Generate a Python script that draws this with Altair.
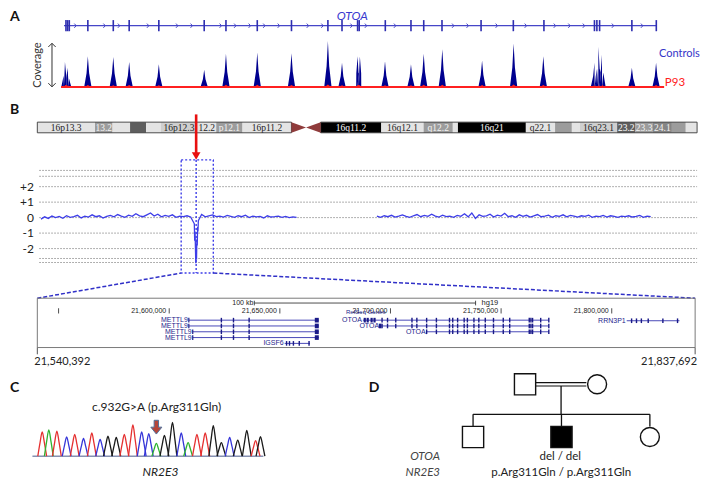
import altair as alt
import pandas as pd
import numpy as np

# ======================= DATA =======================
# Panel A - OTOA gene model (exon positions, % of gene length)
OTOA_EXONS = [0.33, 0.61, 0.89, 4.02, 8.31, 10.99, 15.99, 23.64, 27.31, 32.59, 38.36, 44.50, 46.88,
              49.51, 49.78, 54.18, 58.51, 60.66, 63.74, 70.33, 75.77, 80.93, 89.45, 89.86, 90.32,
              95.76, 99.88]
# coverage peaks at the exons (controls vs patient P93)
PEAK_POS = [0.16, 0.61, 4.02, 8.31, 10.99, 15.99, 23.64, 27.31, 32.59, 38.36, 44.50, 46.88, 49.51,
            49.89, 54.13, 58.51, 60.66, 63.79, 70.50, 75.82, 80.83, 89.45, 90.11, 90.72, 95.76, 99.84]
CONTROL_DEPTH = [103, 80, 127, 124, 103, 94, 71, 138, 143, 140, 190, 100, 127,
                 127, 107, 94, 138, 156, 110, 180, 127, 100, 167, 134, 80, 100]
P93_DEPTH = [8, 6, 8, 7, 8, 7, 6, 9, 9, 8, 10, 7, 8, 8, 7, 7, 9, 9, 8, 10, 8, 7, 9, 8, 6, 8]

# Panel B - chromosome 16 ideogram (Mb)
BAND_START = [0, 7.9, 10.3, 12.7, 14.9, 16.9, 21.9, 24.5, 28.1, 38.8, 47.1, 52.9, 56.9, 57.6,
              66.9, 70.9, 73.2, 74.3, 79.4, 81.9, 84.3, 86.9, 88.8]
BAND_END = [7.9, 10.3, 12.7, 14.9, 16.9, 21.9, 24.5, 28.1, 34.8, 47.1, 52.9, 56.9, 57.6, 66.9,
            70.9, 73.2, 74.3, 79.4, 81.9, 84.3, 86.9, 88.8, 90.35]
BAND_STAIN = ["gneg", "gpos50", "gneg", "gpos75", "gneg", "gpos25", "gneg", "gpos50", "gneg",
              "gpos100", "gneg", "gpos50", "gneg", "gpos100", "gneg", "gpos50", "gneg", "gpos25",
              "gpos75", "gpos50", "gpos60", "gpos50", "gneg"]
BAND_LABEL = ["16p13.3", "13.2", "", "", "", "16p12.3", "12.2", "p12.1", "16p11.2", "16q11.2",
              "16q12.1", "q12.2", "", "16q21", "q22.1", "", "", "16q23.1", "23.2", "23.3", "24.1", "", ""]
CENTROMERE = [34.8, 36.8, 38.8]
OTOA_MB = 21.75

# Panel B - copy number profile (log2-like levels)
CNV_GRID = [3.05, 2.67, 2, 1, 0, -1, -2, -2.64, -2.9]
CNV_TICKS = [2, 1, 0, -1, -2]
CNV_TICK_TEXT = ["+2", "+1", "0", "-1", "-2"]
SEG1_START, SEG2_START, STEP = 0.5, 46.5, 0.5
SEG1 = [-0.10, 0.05, -0.05, 0.10, 0.00, 0.08, -0.04, 0.12, 0.02, 0.06,
        0.15, -0.02, 0.10, 0.04, 0.18, 0.06, 0.12, -0.03, 0.08, 0.14,
        0.05, 0.20, 0.10, 0.02, 0.16, 0.08, 0.25, 0.12, 0.06, 0.18,
        0.30, 0.10, 0.22, 0.05, 0.14, 0.08, 0.18, 0.02, 0.10, 0.06,
        0.12, 0.04, 0.15, 0.08, 0.20, 0.05, 0.12, 0.18, 0.06, 0.10,
        0.04, 0.14, 0.08, 0.02, 0.12, 0.06, 0.16, 0.00, 0.10, 0.05,
        0.08, -0.02, 0.12, 0.04, 0.06, 0.10, 0.02, 0.08, 0.00, 0.05, 0.02]
SEG2 = [0.10, 0.02, 0.12, 0.06, 0.15, 0.04, 0.10, 0.18, 0.08, 0.02,
        0.12, 0.20, 0.06, 0.14, 0.08, 0.22, 0.10, 0.04, 0.16, 0.06,
        0.10, 0.02, 0.14, 0.08, 0.25, 0.05, 0.30, -0.05, 0.18, 0.08,
        0.12, 0.22, 0.04, 0.16, 0.10, 0.28, 0.06, 0.12, 0.02, 0.18,
        0.08, 0.15, 0.04, 0.12, 0.20, 0.06, 0.10, 0.16, 0.02, 0.12,
        0.08, 0.18, 0.05, 0.14, 0.10, 0.04, 0.12, 0.08, 0.16, 0.02,
        0.10, 0.06, 0.14, 0.04, 0.12, 0.08, 0.02, 0.10, 0.06, 0.12,
        0.04, 0.08, 0.14, 0.02, 0.10, 0.06]
DIP_MB = [21.5, 21.55, 21.6, 21.65, 21.7, 21.75, 21.8, 21.85, 21.9, 21.95, 22.0, 22.05]
DIP_VAL = [-0.4, -1.5, -0.9, -1.9, -2.95, -1.7, -2.7, -1.4, -1.8, -0.6, -0.9, -0.2]
BOX_MB = (19.7, 24.1)
BOX_CNV = (3.73, -3.58)

# Panel B - zoomed region (hg19)
REGION = (21540392, 21837692)
POS_TICKS = [21550000, 21600000, 21650000, 21700000, 21750000, 21800000]
POS_TICK_TEXT = ["", "21,600,000", "21,650,000", "21,700,000", "21,750,000", "21,800,000"]
SCALEBAR = (21638465, 21738465)
GENE_NAME = ["METTL9", "METTL9", "METTL9", "METTL9", "IGSF6", "OTOA", "OTOA", "OTOA", "RRN3P1"]
GENE_ROW = [0, 1, 2, 3, 4, 0, 1, 2, 0.1]
GENE_START = [21608863, 21608863, 21610630, 21610630, 21652155, 21687495, 21695314, 21716342, 21806767]
GENE_END = [21667616, 21667616, 21667616, 21667616, 21663641, 21771560, 21771560, 21771560, 21830622]
METTL9_EXONS = [21623574, 21629051, 21636120]
METTL9_LAST = 21666700
IGSF6_EXONS = [21653038, 21654364, 21656131, 21658781, 21663199]
OTOA_FIRST = [21688378, 21689704, 21691471, 21692796]
OTOA_ALT_FIRST = 21695314
OTOA_GX = [21696197, 21698671, 21702382, 21709715, 21711924, 21716342, 21720759, 21726678,
           21728136, 21730345, 21733304, 21734762, 21737722, 21739931, 21742846, 21746557,
           21750975, 21753890, 21762725, 21763476, 21764227, 21767891, 21771560]
RRN3P1_EXONS = [21808976, 21811185, 21813394, 21816486, 21823112, 21829738]

# Panel C - NR2E3 Sanger trace (scan position, base, intensity)
TRACE_SCAN = [20, 47, 80, 120, 153, 189, 223, 257, 289, 323, 356, 391, 427, 456, 487, 520, 553,
              589, 617, 653, 687, 720, 753, 787, 820, 857, 893, 913]
TRACE_BASE = ["T", "A", "T", "C", "T", "C", "T", "C", "G", "G", "T", "T", "C", "C", "A", "G", "G",
              "C", "A", "T", "T", "G", "G", "C", "G", "G", "T", "G"]
TRACE_HEIGHT = [700, 764, 728, 560, 633, 512, 672, 484, 577, 540, 633, 904, 700, 652, 372, 605,
                980, 672, 392, 633, 672, 885, 392, 540, 465, 745, 448, 568]
BASE_COLOR = {"A": "#2fb32f", "C": "#3535d8", "G": "#1a1a1a", "T": "#e53030"}
MUT_SCAN = 487

# Panel D - pedigree
PED_X = [0.588, 1.403, 0.0, 1.0, 2.0]
PED_GEN = [1, 1, 2, 2, 2]
PED_SEX = ["M", "F", "M", "M", "F"]
PED_AFF = [False, False, False, True, False]

# ======================= LAYOUT HELPERS =======================
W, H = 693, 474
FW, FH = 709.0, 490.0


def xs(d0, d1, p0, p1):
    q0, q1 = p0 * W / FW, p1 * W / FW
    k = (q1 - q0) / (d1 - d0)
    a = d0 - q0 / k
    return alt.Scale(domain=[a, a + W / k], nice=False, zero=False)


def ys(v0, v1, p0, p1):
    q0, q1 = p0 * H / FH, p1 * H / FH
    k = (q0 - q1) / (v1 - v0)
    a = v0 - (H - q0) / k
    return alt.Scale(domain=[a, a + H / k], nice=False, zero=False)


LX = xs(0, FW, 0, FW)
LY = ys(0, FH, 0, FH)


def enc(xsc, ysc, x="x", y="y", x2=None, y2=None, **kw):
    e = dict(x=alt.X(f"{x}:Q", scale=xsc, axis=None), y=alt.Y(f"{y}:Q", scale=ysc, axis=None))
    if x2:
        e["x2"] = alt.X2(f"{x2}:Q")
    if y2:
        e["y2"] = alt.Y2(f"{y2}:Q")
    e.update(kw)
    return e


def txt(rows, xsc, ysc, **mk):
    df = pd.DataFrame(rows, columns=["x", "y", "t"])
    mk.setdefault("baseline", "middle")
    return alt.Chart(df).mark_text(**mk).encode(**enc(xsc, ysc), text="t:N")


layers = []
FONT = "Lato"
BLUE_G = "#4646c8"
NAVY = "#00008f"
RED = "#ff2020"

# ======================= PANEL A =======================
GX = xs(0, 100, 57.3, 664)
COV = ys(0, 100, 81.7, 56.7)

layers.append(alt.Chart(pd.DataFrame({"x": [0], "x2": [100], "y": [18.3]}))
              .mark_rule(color=BLUE_G, strokeWidth=1.3).encode(**enc(GX, LY, x2="x2")))
layers.append(alt.Chart(pd.DataFrame({"x": OTOA_EXONS, "y": [12.5] * len(OTOA_EXONS), "y2": [24] * len(OTOA_EXONS)}))
              .mark_rule(color="#2e2eb0", strokeWidth=1.6).encode(**enc(GX, LY, y2="y2")))
chev = [p for p in np.arange(1.9, 99.5, 2.45) if min(abs(p - e) for e in OTOA_EXONS) > 0.9]
layers.append(alt.Chart(pd.DataFrame({"x": chev, "y": [18.3] * len(chev)}))
              .mark_point(shape="M -0.45 -1 L 0.45 0 L -0.45 1", filled=False, color=BLUE_G,
                          size=18, strokeWidth=1, opacity=1).encode(**enc(GX, LY)))
layers.append(txt([[48.6, 8.5, "OTOA"]], GX, LY, font=FONT, fontSize=12, fontStyle="italic",
                  color="#3a3ad0"))

shape_dx = [-0.62, -0.22, 0.0, 0.22, 0.62]
shape_f = [0.0, 0.45, 1.0, 0.45, 0.0]
rows = []
for i, (p, d) in enumerate(zip(PEAK_POS, CONTROL_DEPTH)):
    for dx, f in zip(shape_dx, shape_f):
        rows.append({"x": p + dx, "y": d * f, "pid": i})
layers.append(alt.Chart(pd.DataFrame(rows)).mark_area(color=NAVY, opacity=1)
              .encode(**enc(GX, COV, detail="pid:N")))
layers.append(alt.Chart(pd.DataFrame({"x": [-0.5], "x2": [101.2], "y": [0]}))
              .mark_rule(color=RED, strokeWidth=2).encode(**enc(GX, COV, x2="x2")))
rows = []
for i, (p, d) in enumerate(zip(PEAK_POS, P93_DEPTH)):
    for dx, f in zip([-0.55, 0, 0.55], [0, 1, 0]):
        rows.append({"x": p + dx, "y": d * f, "pid": i})
layers.append(alt.Chart(pd.DataFrame(rows)).mark_area(color=RED, opacity=1)
              .encode(**enc(GX, COV, detail="pid:N")))
layers.append(txt([[666, 48, "Controls"]], LX, LY, font=FONT, fontSize=11, color="#3535c8", align="left"))
layers.append(txt([[672, 77.5, "P93"]], LX, LY, font=FONT, fontSize=11.5, color=RED, align="left"))
# coverage arrow
layers.append(alt.Chart(pd.DataFrame({"x": [45], "y": [36.5], "y2": [81.5]}))
              .mark_rule(color="#333333", strokeWidth=1).encode(**enc(LX, LY, y2="y2")))
layers.append(alt.Chart(pd.DataFrame({"x": [45], "y": [36.5]}))
              .mark_point(shape="M -0.7 0.7 L 0 0 L 0.7 0.7", filled=False, color="#333333", size=110,
                          strokeWidth=1, opacity=1).encode(**enc(LX, LY)))
layers.append(alt.Chart(pd.DataFrame({"x": [45], "y": [81.5]}))
              .mark_point(shape="M -0.7 -0.7 L 0 0 L 0.7 -0.7", filled=False, color="#333333", size=110,
                          strokeWidth=1, opacity=1).encode(**enc(LX, LY)))
layers.append(txt([[31, 59, "Coverage"]], LX, LY, font=FONT, fontSize=11, color="#333333", angle=270))

# ======================= PANEL B : ideogram =======================
MB = xs(0, 90.35, 30, 705)
STAIN_FILL = {"gneg": "#e4e4e4", "gpos25": "#cfcfcf", "gpos50": "#9c9c9c", "gpos60": "#858585",
              "gpos75": "#5e5e5e", "gpos100": "#000000"}
STAIN_TEXT = {"gneg": "#222222", "gpos25": "#222222", "gpos50": "#f4f4f4", "gpos60": "#f4f4f4",
              "gpos75": "#ffffff", "gpos100": "#ffffff"}
bands = pd.DataFrame({"x": BAND_START, "x2": BAND_END, "y": [118] * len(BAND_START),
                      "y2": [129] * len(BAND_START),
                      "fill": [STAIN_FILL[s] for s in BAND_STAIN],
                      "tc": [STAIN_TEXT[s] for s in BAND_STAIN], "t": BAND_LABEL})
bands["xm"] = (bands["x"] + bands["x2"]) / 2
bands["ym"] = 123.7
layers.append(alt.Chart(bands).mark_rect(strokeWidth=0)
              .encode(**enc(MB, LY, x2="x2", y2="y2"), fill=alt.Fill("fill:N", scale=None)))
layers.append(alt.Chart(bands[bands["t"] != ""]).mark_text(font="Liberation Sans Narrow", fontSize=9.5,
                                                            baseline="middle")
              .encode(**enc(MB, LY, x="xm", y="ym"), text="t:N", color=alt.Color("tc:N", scale=None)))
layers.append(alt.Chart(pd.DataFrame({"x": [0, 38.8], "x2": [34.8, 90.35], "y": [118, 118], "y2": [129, 129]}))
              .mark_rect(fillOpacity=0, stroke="#3a3a3a", strokeWidth=0.9)
              .encode(**enc(MB, LY, x2="x2", y2="y2")))
layers.append(alt.Chart(pd.DataFrame({"x": CENTROMERE, "y": [118, 123.5, 118], "y2": [129, 123.5, 129]}))
              .mark_area(color="#8f3b3b", orient="vertical", opacity=1)
              .encode(**enc(MB, LY, y2="y2")))
# red arrow to OTOA
layers.append(alt.Chart(pd.DataFrame({"x": [OTOA_MB], "y": [110], "y2": [150]}))
              .mark_rule(color="#e81010", strokeWidth=2.6).encode(**enc(MB, LY, y2="y2")))
layers.append(alt.Chart(pd.DataFrame({"x": [OTOA_MB], "y": [153]}))
              .mark_point(shape="triangle-down", filled=True, color="#e81010", size=75, opacity=1)
              .encode(**enc(MB, LY)))

# ======================= PANEL B : CNV =======================
CN = ys(0, 1, 216.7, 200.7)
layers.append(alt.Chart(pd.DataFrame({"x": [0.27] * len(CNV_GRID), "x2": [90.35] * len(CNV_GRID), "y": CNV_GRID}))
              .mark_rule(color="#8a8a8a", strokeWidth=0.9, strokeDash=[1.5, 1.5])
              .encode(**enc(MB, CN, x2="x2")))
layers.append(alt.Chart(pd.DataFrame({"x": [-0.45] * len(CNV_TICKS), "y": CNV_TICKS, "t": CNV_TICK_TEXT}))
              .mark_text(font=FONT, fontSize=12, color="#222222", align="right", baseline="middle")
              .encode(**enc(MB, CN), text="t:N"))
seg1_x = [SEG1_START + STEP * i for i in range(len(SEG1))]
pts = [(x, v) for x, v in zip(seg1_x, SEG1) if not (DIP_MB[0] - 0.01 <= x <= DIP_MB[-1] + 0.01)]
pts += list(zip(DIP_MB, DIP_VAL))
pts.sort()
cnv1 = pd.DataFrame(pts, columns=["x", "y"])
cnv1["seg"] = 1
seg2_x = [SEG2_START + STEP * i for i in range(len(SEG2))]
cnv2 = pd.DataFrame({"x": seg2_x, "y": SEG2})
cnv2["seg"] = 2
layers.append(alt.Chart(pd.concat([cnv1, cnv2])).mark_line(color="#3d3de8", strokeWidth=1.3)
              .encode(**enc(MB, CN, detail="seg:N")))
# highlighted window
layers.append(alt.Chart(pd.DataFrame({"x": [BOX_MB[0]], "x2": [BOX_MB[1]], "y": [BOX_CNV[0]], "y2": [BOX_CNV[1]]}))
              .mark_rect(fillOpacity=0, stroke="#3d3de8", strokeWidth=1.4, strokeDash=[2, 2])
              .encode(**enc(MB, CN, x2="x2", y2="y2")))
layers.append(alt.Chart(pd.DataFrame({"x": [OTOA_MB], "y": [BOX_CNV[0]], "y2": [BOX_CNV[1]]}))
              .mark_rule(color="#3d3de8", strokeWidth=1.4, strokeDash=[2, 2])
              .encode(**enc(MB, CN, y2="y2")))


# connectors from window to zoom box (figure layout units)
def mb_to_fig(mb):
    return 30 + mb * (705 - 30) / 90.35


def cn_to_fig(v):
    return 216.7 - v * 16.0


BOXL, BOXR, BOXT, BOXB = 30, 703, 300, 351
conn = pd.DataFrame({"x": [mb_to_fig(BOX_MB[0]), BOXL, mb_to_fig(BOX_MB[1]), BOXR],
                     "y": [cn_to_fig(BOX_CNV[1]), BOXT, cn_to_fig(BOX_CNV[1]), BOXT],
                     "side": ["l", "l", "r", "r"]})
layers.append(alt.Chart(conn).mark_line(color="#3030c8", strokeWidth=1.5, strokeDash=[4, 2])
              .encode(**enc(LX, LY, detail="side:N")))
layers.append(alt.Chart(pd.DataFrame({"x": [BOXL], "x2": [BOXR], "y": [BOXT], "y2": [BOXB]}))
              .mark_rect(fillOpacity=0, stroke="#7a7a7a", strokeWidth=1)
              .encode(**enc(LX, LY, x2="x2", y2="y2")))

# ======================= PANEL B : zoomed genes =======================
GR = xs(REGION[0], REGION[1], BOXL, BOXR)
ROW = ys(0, 1, 322.7, 328.7)
UC = "Liberation Sans"
GC = "#1e1e8c"
# scale bar
layers.append(alt.Chart(pd.DataFrame({"x": [SCALEBAR[0]], "x2": [SCALEBAR[1]], "y": [-2.95]}))
              .mark_rule(color="#222222", strokeWidth=0.8).encode(**enc(GR, ROW, x2="x2")))
layers.append(alt.Chart(pd.DataFrame({"x": list(SCALEBAR), "y": [-3.35, -3.35], "y2": [-2.55, -2.55]}))
              .mark_rule(color="#222222", strokeWidth=0.8).encode(**enc(GR, ROW, y2="y2")))
layers.append(alt.Chart(pd.DataFrame({"x": [SCALEBAR[0]], "y": [-3.0], "t": ["100 kb"]}))
              .mark_text(font=UC, fontSize=7, color="#222222", align="right", dx=-1, baseline="middle")
              .encode(**enc(GR, ROW), text="t:N"))
layers.append(alt.Chart(pd.DataFrame({"x": [SCALEBAR[1]], "y": [-2.95], "t": ["hg19"]}))
              .mark_text(font=UC, fontSize=7.5, color="#222222", align="left", dx=6, baseline="middle")
              .encode(**enc(GR, ROW), text="t:N"))
# position ticks
layers.append(alt.Chart(pd.DataFrame({"x": POS_TICKS, "y": [-2.05] * 6, "y2": [-1.15] * 6}))
              .mark_rule(color="#222222", strokeWidth=0.8).encode(**enc(GR, ROW, y2="y2")))
layers.append(alt.Chart(pd.DataFrame({"x": POS_TICKS, "y": [-1.6] * 6, "t": POS_TICK_TEXT}))
              .mark_text(font=UC, fontSize=7, color="#222222", align="right", dx=-3, baseline="middle")
              .encode(**enc(GR, ROW), text="t:N"))
layers.append(alt.Chart(pd.DataFrame({"x": [21688800], "y": [-1.0], "t": ["RefSeq Genes"]}))
              .mark_text(font=UC, fontSize=6, color=GC, align="center", baseline="bottom", dy=1)
              .encode(**enc(GR, ROW), text="t:N"))
genes = pd.DataFrame({"x": GENE_START, "x2": GENE_END, "y": GENE_ROW, "t": GENE_NAME})
layers.append(alt.Chart(genes).mark_rule(color="#4a4ab8", strokeWidth=1)
              .encode(**enc(GR, ROW, x2="x2")))
layers.append(alt.Chart(genes).mark_text(font=UC, fontSize=7, color=GC, align="right", dx=-1, baseline="middle")
              .encode(**enc(GR, ROW), text="t:N"))
ex = []
for r in range(4):
    for p in METTL9_EXONS:
        ex.append((p, r, 1.4))
    ex.append((METTL9_LAST, r, 4.0))
    ex.append((GENE_START[r], r, 1.2))
for p in IGSF6_EXONS:
    ex.append((p, 4, 1.4))
for p in OTOA_FIRST:
    ex.append((p, 0, 2.2))
ex.append((OTOA_ALT_FIRST, 1, 2.6))
for r, start in zip([0, 1, 2], GENE_START[5:8]):
    for p in OTOA_GX:
        if p >= start:
            ex.append((p, r, 1.4))
for p in RRN3P1_EXONS:
    ex.append((p, 0.1, 1.4))
exdf = pd.DataFrame(ex, columns=["x", "row", "w"])
exdf["y"] = exdf["row"] - 0.4
exdf["y2"] = exdf["row"] + 0.4
for w in sorted(exdf["w"].unique()):
    sub = exdf[exdf["w"] == w]
    layers.append(alt.Chart(sub).mark_rule(color="#1a1a88", strokeWidth=float(w))
                  .encode(**enc(GR, ROW, y2="y2")))
# region end coordinates
layers.append(alt.Chart(pd.DataFrame({"x": list(REGION), "y": [BOXB, BOXB], "y2": [BOXB + 7, BOXB + 7]}))
              .mark_rule(color="#555555", strokeWidth=1).encode(**enc(GR, LY, y2="y2")))
layers.append(alt.Chart(pd.DataFrame({"x": [REGION[0]], "y": [365.5], "t": ["21,540,392"]}))
              .mark_text(font=FONT, fontSize=11, color="#222222", align="left", dx=-3, baseline="middle")
              .encode(**enc(GR, LY), text="t:N"))
layers.append(alt.Chart(pd.DataFrame({"x": [REGION[1]], "y": [365.5], "t": ["21,837,692"]}))
              .mark_text(font=FONT, fontSize=11, color="#222222", align="right", dx=2, baseline="middle")
              .encode(**enc(GR, LY), text="t:N"))

# ======================= PANEL C =======================
SC = xs(20, 913, 35, 258.3)
IN = ys(0, 1000, 463.3, 427.6)
rows = []
for i, (s, b, h) in enumerate(zip(TRACE_SCAN, TRACE_BASE, TRACE_HEIGHT)):
    for dx, f in zip([-18, -9, 0, 9, 18], [0, 0.55, 1, 0.55, 0]):
        rows.append({"x": s + dx, "y": h * f, "pid": i, "c": BASE_COLOR[b]})
layers.append(alt.Chart(pd.DataFrame({"x": [-20], "x2": [925], "y": [0]}))
              .mark_rule(color="#4a5a8a", strokeWidth=1).encode(**enc(SC, IN, x2="x2")))
layers.append(alt.Chart(pd.DataFrame(rows)).mark_line(interpolate="monotone", strokeWidth=1.3)
              .encode(**enc(SC, IN, detail="pid:N"), color=alt.Color("c:N", scale=None)))
layers.append(alt.Chart(pd.DataFrame({"x": [MUT_SCAN], "y": [840]}))
              .mark_point(shape="M -0.32 -1 L 0.32 -1 L 0.32 0 L 0.8 0 L 0 1 L -0.8 0 L -0.32 0 Z",
                          filled=True, fill="#b5453a", stroke="#50709a", strokeWidth=1, size=190, opacity=1)
              .encode(**enc(SC, IN)))
layers.append(txt([[152, 412, "c.932G>A (p.Arg311Gln)"]], LX, LY, font=FONT, fontSize=12, color="#222222"))
layers.append(txt([[156, 479.5, "NR2E3"]], LX, LY, font=FONT, fontSize=12, fontStyle="italic",
                  color="#222222"))

# ======================= PANEL D =======================
PX = xs(0, 2, 475.8, 656.7)
PG = ys(1, 2, 389, 443.5)
half_w = 11 / 90.45
half_h = 11 / 54.5
sib_y = 1.569
marr = pd.DataFrame({"x": [PED_X[0] + half_w] * 2, "x2": [PED_X[1] - half_w] * 2,
                     "y": [1 - 0.032, 1 + 0.032]})
layers.append(alt.Chart(marr).mark_rule(color="#111111", strokeWidth=1.2).encode(**enc(PX, PG, x2="x2")))
desc_x = (PED_X[0] + PED_X[1]) / 2
layers.append(alt.Chart(pd.DataFrame({"x": [desc_x], "y": [1.032], "y2": [sib_y]}))
              .mark_rule(color="#111111", strokeWidth=1.3).encode(**enc(PX, PG, y2="y2")))
kids = [i for i, g in enumerate(PED_GEN) if g == 2]
layers.append(alt.Chart(pd.DataFrame({"x": [min(PED_X[i] for i in kids)], "x2": [max(PED_X[i] for i in kids)],
                                      "y": [sib_y]}))
              .mark_rule(color="#111111", strokeWidth=1.3).encode(**enc(PX, PG, x2="x2")))
layers.append(alt.Chart(pd.DataFrame({"x": [PED_X[i] for i in kids], "y": [sib_y] * len(kids),
                                      "y2": [2 - half_h] * len(kids)}))
              .mark_rule(color="#111111", strokeWidth=1.3).encode(**enc(PX, PG, y2="y2")))
ped = pd.DataFrame({"x": PED_X, "y": PED_GEN, "sex": PED_SEX, "aff": PED_AFF})
ped["fill"] = np.where(ped["aff"], "#000000", "#ffffff")
for sex, shape, size in [("M", "square", 450), ("F", "circle", 360)]:
    sub = ped[ped["sex"] == sex]
    layers.append(alt.Chart(sub).mark_point(shape=shape, filled=True, size=size, stroke="#111111",
                                            strokeWidth=1.4, opacity=1)
                  .encode(**enc(PX, PG), fill=alt.Fill("fill:N", scale=None)))
layers.append(txt([[442, 464, "OTOA"], [442, 481, "NR2E3"]], LX, LY, font=FONT, fontSize=11.5,
                  fontStyle="italic", color="#444444", align="right"))
layers.append(txt([[565, 464, "del / del"], [566, 481, "p.Arg311Gln / p.Arg311Gln"]], LX, LY,
                  font=FONT, fontSize=11.5, color="#222222", align="center"))

# ======================= PANEL LETTERS =======================
layers.append(txt([[2, 9, "A"], [2, 105, "B"], [2, 393, "C"], [369, 393, "D"]], LX, LY, font=FONT,
                  fontSize=14, fontWeight="bold", color="#111111", align="left"))

chart = (alt.layer(*layers)
         .resolve_scale(x="independent", y="independent")
         .properties(width=W, height=H, padding=0, autosize=alt.AutoSizeParams(type="none"),
                     background="white")
         .configure_view(stroke=None))

chart.save("out.html", embed_options={"renderer": "svg", "actions": False})
